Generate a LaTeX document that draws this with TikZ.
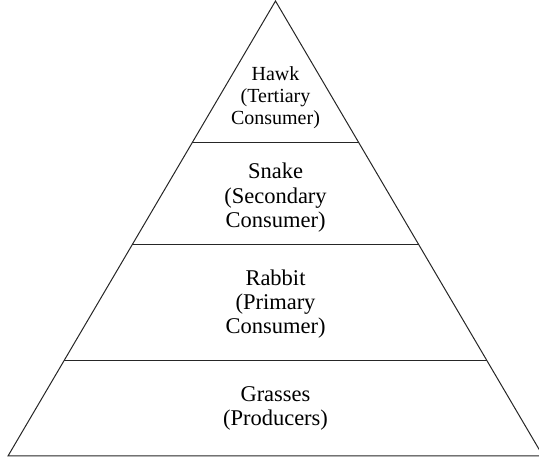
\documentclass[tikz,border=0pt]{standalone}
\usepackage{fontspec}
\setmainfont{Liberation Serif}
\usetikzlibrary{calc}
\begin{document}
\begin{tikzpicture}[x=1pt,y=1pt,
  edge/.style={line width=1pt, draw=black!85},
  label/.style={align=center, font=\fontsize{22.5}{24.3}\selectfont, inner sep=0pt},
  toplabel/.style={label, font=\fontsize{20}{22.2}\selectfont}]
  \useasboundingbox (0,0) rectangle (539,463);
  \clip (0,0) rectangle (539,463);
  % outline of the pyramid (its right corner runs past the frame)
  \coordinate (apex) at (275.5,462);
  \coordinate (bl) at (8,7);
  \coordinate (br) at (543,7);
  \draw[edge, line join=miter] (bl) -- (apex) -- (br) -- cycle;
  % level dividers
  \foreach \t/\n in {0.312/a, 0.536/b, 0.791/c} {
    \coordinate (l\n) at ($(apex)!\t!(bl)$);
    \coordinate (r\n) at ($(apex)!\t!(br)$);
    \draw[edge] (l\n) -- (r\n);
  }
  % trophic level labels
  \node[toplabel] (hawk) at (275.5,365.2) {Hawk\\(Tertiary\\Consumer)};
  \node[label] (snake) at (275.5,265.3) {Snake\\(Secondary\\Consumer)};
  \node[label] (rabbit) at (275.5,159) {Rabbit\\(Primary\\Consumer)};
  \node[label] (grass) at (275.5,54.9) {Grasses\\(Producers)};
\end{tikzpicture}
\end{document}
